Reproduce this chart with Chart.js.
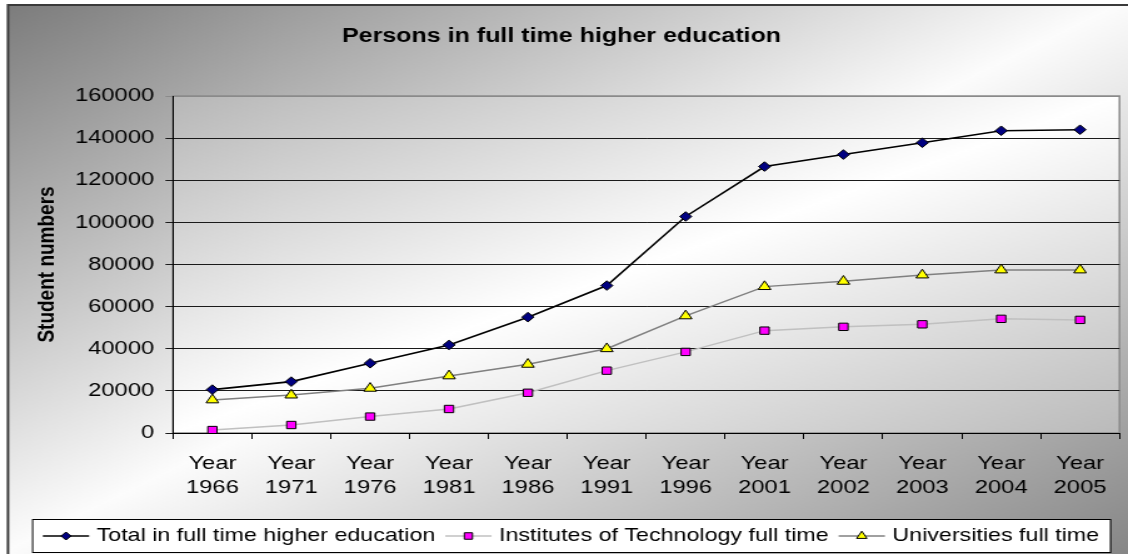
<!DOCTYPE html>
<html><head><meta charset="utf-8">
<script src="https://cdn.jsdelivr.net/npm/chart.js@4.4.1/dist/chart.umd.min.js"></script>
<style>
html,body{margin:0;padding:0;background:#fff;overflow:hidden;}
#wrap{width:902px;height:554px;transform:scaleX(1.25055);transform-origin:0 0;}
canvas{display:block;}
</style></head><body>
<div id="wrap"><canvas id="c" width="902" height="554"></canvas></div>
<script>
// ---- data ----
const categories = [['Year','1966'],['Year','1971'],['Year','1976'],['Year','1981'],['Year','1986'],['Year','1991'],['Year','1996'],['Year','2001'],['Year','2002'],['Year','2003'],['Year','2004'],['Year','2005']];
const totalValues = [20600,24400,33100,41800,55000,70000,102800,126500,132200,137800,143500,144000];
const itValues    = [1400,3800,7800,11400,19100,29600,38500,48600,50400,51600,54200,53700];
const uniValues   = [15700,18000,21200,27100,32600,40000,55600,69500,72000,75000,77400,77400];
const seriesNames = ['Total in full time higher education','Institutes of Technology full time','Universities full time'];
const yMin = 0, yMax = 160000, yStep = 20000;
const chartTitle = 'Persons in full time higher education';
const yTitle = 'Student numbers';

const FONT = '"Liberation Sans", Arial, sans-serif';

const bgPlugin = {
  id: 'bg',
  beforeDraw(chart) {
    const ctx = chart.ctx, W = chart.width, H = chart.height;
    ctx.save();
    ctx.fillStyle = '#fff';
    ctx.fillRect(0, 0, W, H);
    const f = 2 * W * H / (W * W + H * H);
    const g = ctx.createLinearGradient(0, 0, H * f, W * f);
    g.addColorStop(0, '#7a7a7a');
    g.addColorStop(0.5, '#fcfcfc');
    g.addColorStop(1, '#868686');
    ctx.fillStyle = g;
    ctx.fillRect(6.4, 5, W, H);
    ctx.strokeStyle = '#3a3a3a';
    ctx.lineWidth = 2;
    ctx.strokeRect(6.4, 5, W + 10, H + 10);
    const a = chart.chartArea;
    const w = a.right - a.left, h = a.bottom - a.top;
    const f2 = 2 * w * h / (w * w + h * h);
    const g2 = ctx.createLinearGradient(a.left, a.top, a.left + h * f2, a.top + w * f2);
    g2.addColorStop(0, '#b7b7b7');
    g2.addColorStop(0.5, '#ffffff');
    g2.addColorStop(1, '#bababa');
    ctx.fillStyle = g2;
    ctx.fillRect(a.left, a.top, w, h);
    ctx.strokeStyle = '#8a8a8a';
    ctx.lineWidth = 1.5;
    ctx.strokeRect(a.left, a.top, w, h);
    ctx.restore();
  }
};

function drawShape(ctx, style, r, x, y) {
  if (style === 'rectRot') {
    ctx.moveTo(x, y - r); ctx.lineTo(x + r, y); ctx.lineTo(x, y + r); ctx.lineTo(x - r, y); ctx.closePath();
  } else if (style === 'rect') {
    const s = r * Math.SQRT1_2;
    ctx.rect(x - s, y - s, 2 * s, 2 * s);
  } else {
    ctx.moveTo(x, y - r);
    ctx.lineTo(x + r * Math.sin(Math.PI / 3), y + r / 2);
    ctx.lineTo(x - r * Math.sin(Math.PI / 3), y + r / 2);
    ctx.closePath();
  }
}

const legendPlugin = {
  id: 'boxLegend',
  afterDraw(chart) {
    const ctx = chart.ctx;
    const bx = 25.6, by = 519, bw = 862, bh = 33;
    ctx.save();
    ctx.fillStyle = '#ffffff';
    ctx.fillRect(bx, by, bw, bh);
    ctx.strokeStyle = '#000';
    ctx.lineWidth = 1;
    ctx.strokeRect(bx + 0.5, by + 0.5, bw, bh);
    ctx.font = '18.6px ' + FONT;
    ctx.textBaseline = 'middle';
    const lineW = 37, gap1 = 6, gap2 = 8;
    const items = chart.data.datasets.map(ds => ({ds, tw: ctx.measureText(ds.label).width}));
    let total = 0;
    items.forEach((it, i) => { total += lineW + gap1 + it.tw + (i < items.length - 1 ? gap2 : 0); });
    let x = bx + (bw - total) / 2;
    const cy = by + bh / 2 + 0.5;
    const legendRadius = [4, 4.6, 4.8];
    items.forEach((it, i) => {
      const ds = it.ds;
      ctx.strokeStyle = ds.borderColor;
      ctx.lineWidth = 1.5;
      ctx.beginPath();
      ctx.moveTo(x, cy);
      ctx.lineTo(x + lineW, cy);
      ctx.stroke();
      ctx.fillStyle = ds.pointBackgroundColor;
      ctx.strokeStyle = ds.pointBorderColor;
      ctx.lineWidth = 1;
      ctx.beginPath();
      drawShape(ctx, ds.pointStyle, legendRadius[i], x + lineW / 2, cy);
      ctx.fill();
      ctx.stroke();
      x += lineW + gap1;
      ctx.fillStyle = '#000';
      ctx.fillText(ds.label, x, cy);
      x += it.tw + gap2;
    });
    ctx.restore();
  }
};

new Chart(document.getElementById('c'), {
  type: 'line',
  data: {
    labels: categories,
    datasets: [
      { label: seriesNames[0], data: totalValues, borderColor: '#000000', borderWidth: 1.6,
        pointStyle: 'rectRot', pointRadius: 4.8, pointBackgroundColor: '#000080', pointBorderColor: '#000000', pointBorderWidth: 1, tension: 0 },
      { label: seriesNames[1], data: itValues, borderColor: '#c0c0c0', borderWidth: 1.5,
        pointStyle: 'rect', pointRadius: 5.2, pointBackgroundColor: '#ff00ff', pointBorderColor: '#000000', pointBorderWidth: 1, tension: 0 },
      { label: seriesNames[2], data: uniValues, borderColor: '#808080', borderWidth: 1.5,
        pointStyle: 'triangle', pointRadius: 5.8, pointBackgroundColor: '#ffff00', pointBorderColor: '#000000', pointBorderWidth: 1, tension: 0 }
    ]
  },
  options: {
    responsive: false,
    animation: false,
    devicePixelRatio: 1,
    layout: { padding: { left: 0, right: 4, top: 0, bottom: 54 } },
    plugins: {
      legend: { display: false },
      tooltip: { enabled: false },
      title: {
        display: true, text: chartTitle, color: '#000',
        font: { family: FONT, size: 20, weight: 'bold', lineHeight: 1.2 },
        padding: { top: 24, bottom: 48 }
      }
    },
    scales: {
      x: {
        type: 'category',
        offset: true,
        grid: { display: true, drawOnChartArea: false, drawTicks: true, tickLength: 6, color: '#000', offset: true },
        border: { display: true, color: '#000', width: 1 },
        ticks: { color: '#000', font: { family: FONT, size: 19, lineHeight: 1.3 }, padding: 12, maxRotation: 0, autoSkip: false },
        afterFit(s) { s.height = 67; }
      },
      y: {
        min: yMin, max: yMax,
        ticks: { stepSize: yStep, color: '#000', font: { family: FONT, size: 19 }, padding: 9,
                 callback: v => String(v) },
        grid: { color: ctx => (ctx.tick && ctx.tick.value === yMax) ? '#8a8a8a' : '#1a1a1a', tickLength: 6, lineWidth: 1 },
        border: { display: true, color: '#000', width: 1 },
        title: { display: true, text: yTitle, color: '#000', font: { family: FONT, size: 19, weight: 'bold', lineHeight: 1.2 }, padding: { top: 26, bottom: 0 } },
        afterFit(s) { s.width = 138.3; }
      }
    }
  },
  plugins: [bgPlugin, legendPlugin]
});
</script>
</body></html>
